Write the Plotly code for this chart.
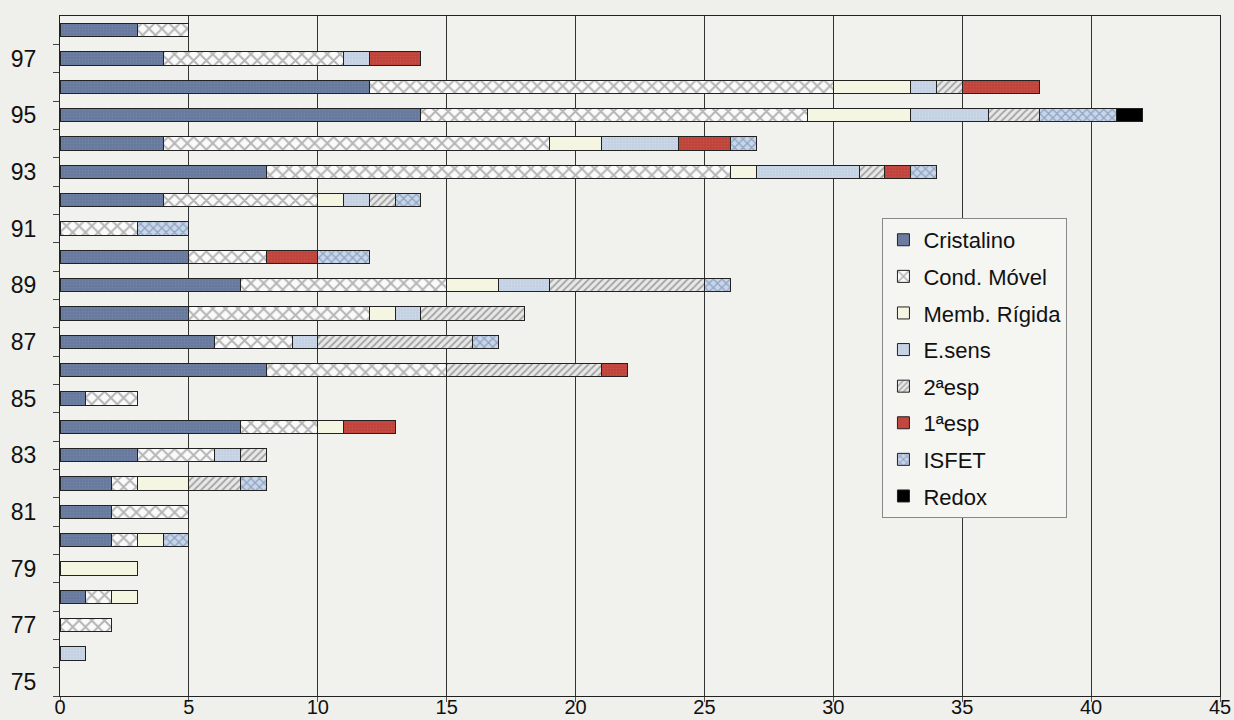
import plotly.graph_objects as go

years = list(range(75, 99))

# counts per year (75 .. 98), one list per class
cristalino   = [0, 0, 0, 1, 0, 2, 2, 2, 3, 7, 1, 8, 6, 5, 7, 5, 0, 4, 8, 4, 14, 12, 4, 3]
cond_movel   = [0, 0, 2, 1, 0, 1, 3, 1, 3, 3, 2, 7, 3, 7, 8, 3, 3, 6, 18, 15, 15, 18, 7, 2]
memb_rigida  = [0, 0, 0, 1, 3, 1, 0, 2, 0, 1, 0, 0, 0, 1, 2, 0, 0, 1, 1, 2, 4, 3, 0, 0]
e_sens       = [0, 1, 0, 0, 0, 0, 0, 0, 1, 0, 0, 0, 1, 1, 2, 0, 0, 1, 4, 3, 3, 1, 1, 0]
esp2         = [0, 0, 0, 0, 0, 0, 0, 2, 1, 0, 0, 6, 6, 4, 6, 0, 0, 1, 1, 0, 2, 1, 0, 0]
esp1         = [0, 0, 0, 0, 0, 0, 0, 0, 0, 2, 0, 1, 0, 0, 0, 2, 0, 0, 1, 2, 0, 3, 2, 0]
isfet        = [0, 0, 0, 0, 0, 1, 0, 1, 0, 0, 0, 0, 1, 0, 1, 2, 2, 1, 1, 1, 3, 0, 0, 0]
redox        = [0, 0, 0, 0, 0, 0, 0, 0, 0, 0, 0, 0, 0, 0, 0, 0, 0, 0, 0, 0, 1, 0, 0, 0]

x_ticks = list(range(0, 46, 5))
y_ticks = list(range(75, 98, 2))

series = [
    ("Cristalino", cristalino, dict(color="#6a7a9f", pattern=dict(shape=".", fgcolor="#7f8db0", bgcolor="#67789d", size=3, solidity=0.3))),
    ("Cond. Móvel", cond_movel, dict(color="#ffffff", pattern=dict(shape="x", fgcolor="#6e6e6e", bgcolor="#fafafa", size=9, solidity=0.38))),
    ("Memb. Rígida", memb_rigida, dict(color="#f4f6e2")),
    ("E.sens", e_sens, dict(color="#c7d4e5", pattern=dict(shape=".", fgcolor="#dbe4ef", bgcolor="#c3d0e2", size=3, solidity=0.3))),
    ("2\u00aaesp", esp2, dict(color="#d8d8d8", pattern=dict(shape="/", fgcolor="#5e5e5e", bgcolor="#e8e8e8", size=5, solidity=0.35))),
    ("1\u00aaesp", esp1, dict(color="#c2473f", pattern=dict(shape=".", fgcolor="#cc5f56", bgcolor="#c0433b", size=3, solidity=0.25))),
    ("ISFET", isfet, dict(color="#8fa6c8", pattern=dict(shape="x", fgcolor="#5673a3", bgcolor="#c9d6e8", size=6, solidity=0.4))),
    ("Redox", redox, dict(color="#000000")),
]

fig = go.Figure()
for i, (name, vals, marker) in enumerate(series):
    marker = dict(marker)
    marker["line"] = dict(color="#222222", width=1)
    fig.add_trace(go.Bar(
        name=name, y=years, x=[v if v else None for v in vals],
        orientation="h", width=0.47,
        marker=marker, legendgroup=f"g{i}",
    ))

fig.update_layout(
    barmode="stack",
    width=1234, height=720,
    margin=dict(l=60, r=14, t=16, b=24),
    paper_bgcolor="#efefec",
    plot_bgcolor="#f1f1ee",
    font=dict(family="Liberation Sans, Arial, sans-serif", color="#111111"),
    showlegend=True,
    legend=dict(
        x=0.709, y=0.703, xanchor="left", yanchor="top",
        bgcolor="#f5f5f2", bordercolor="#888888", borderwidth=1,
        font=dict(size=22, color="#111111"),
        tracegroupgap=5, itemwidth=30,
    ),
)

fig.update_xaxes(
    range=[0, 45], tickvals=x_ticks, automargin=False,
    showgrid=True, gridcolor="#333333", gridwidth=1,
    zeroline=False, showline=True, linecolor="#222222", linewidth=1, mirror=True,
    ticks="", tickfont=dict(size=20), ticklabelstandoff=-7,
    minor=dict(tickvals=x_ticks, ticks="outside", ticklen=5, tickcolor="#555555", showgrid=False),
)
fig.update_yaxes(
    range=[74.5, 98.5], tickvals=y_ticks, automargin=False,
    showgrid=False, zeroline=False,
    showline=True, linecolor="#222222", linewidth=1, mirror=True,
    ticks="", tickfont=dict(size=23), ticklabelstandoff=18,
    minor=dict(tickvals=[y + 0.5 for y in range(74, 98)], ticks="outside", ticklen=6, tickcolor="#444444"),
)

fig.write_html("out.html")
